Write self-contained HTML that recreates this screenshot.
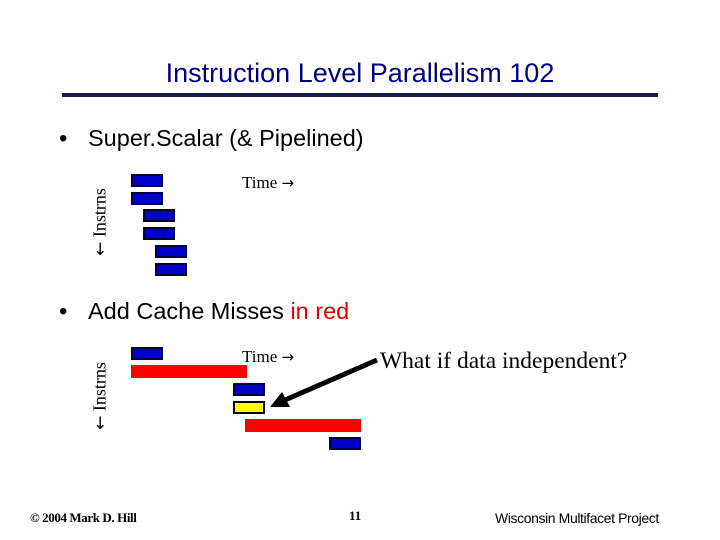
<!DOCTYPE html>
<html><head><meta charset="utf-8"><style>
body{margin:0;background:#fff}
#s{position:relative;width:720px;height:540px;overflow:hidden;font-family:"Liberation Sans",sans-serif}
.t{position:absolute;white-space:nowrap}
.b{position:absolute;box-sizing:border-box;border:2px solid #000040}
.blue{background:#0000c8}.red{background:#f00;border:none}.yel{background:#ff0;border-color:#000}
.serif{font-family:"Liberation Serif",serif}
.ar{font-family:"DejaVu Sans",sans-serif;font-size:15px}
</style></head><body>
<div id="s">
<div class="t" style="left:0;width:720px;text-align:center;top:58px;font-size:27px;color:#000080">Instruction Level Parallelism 102</div>
<div style="position:absolute;left:62px;top:93px;width:596px;height:4px;background:#1a1a50"></div>
<div class="t" style="left:59px;top:125px;font-size:24px">•</div>
<div class="t" style="left:88px;top:125px;font-size:23.5px">Super.Scalar (&amp; Pipelined)</div>
<div class="t" style="left:59px;top:298px;font-size:24px">•</div>
<div class="t" style="left:88px;top:298px;font-size:23.5px">Add Cache Misses <span style="color:#e00000">in red</span></div>

<div class="t serif" style="left:242px;top:173px;font-size:17px">Time <span class="ar">→</span></div>
<div class="t serif" style="left:100px;top:222px;font-size:18px;transform:translate(-50%,-50%) rotate(-90deg)"><span class="ar" style="font-size:17px">←</span> Instrns</div>
<div class="b blue" style="left:131px;top:174px;width:32px;height:13px"></div>
<div class="b blue" style="left:131px;top:192px;width:32px;height:13px"></div>
<div class="b blue" style="left:143px;top:209px;width:32px;height:13px"></div>
<div class="b blue" style="left:143px;top:227px;width:32px;height:13px"></div>
<div class="b blue" style="left:155px;top:245px;width:32px;height:13px"></div>
<div class="b blue" style="left:155px;top:263px;width:32px;height:13px"></div>

<div class="t serif" style="left:242px;top:347px;font-size:17px">Time <span class="ar">→</span></div>
<div class="t serif" style="left:100px;top:396px;font-size:18px;transform:translate(-50%,-50%) rotate(-90deg)"><span class="ar" style="font-size:17px">←</span> Instrns</div>
<div class="b blue" style="left:131px;top:347px;width:32px;height:13px"></div>
<div class="b red" style="left:131px;top:365px;width:116px;height:13px"></div>
<div class="b blue" style="left:233px;top:383px;width:32px;height:13px"></div>
<div class="b yel" style="left:233px;top:401px;width:32px;height:13px"></div>
<div class="b red" style="left:245px;top:419px;width:116px;height:13px"></div>
<div class="b blue" style="left:329px;top:437px;width:32px;height:13px"></div>
<svg style="position:absolute;left:0;top:0" width="720" height="540">
<line x1="377" y1="360" x2="285" y2="400" stroke="#000" stroke-width="5"/>
<polygon points="270,407 282,392 290,407" fill="#000"/>
</svg>
<div class="t serif" style="left:380px;top:348px;font-size:23.5px">What if data independent?</div>

<div class="t serif" style="left:30px;top:510px;font-size:13px;font-weight:bold;letter-spacing:-0.4px">© 2004 Mark D. Hill</div>
<div class="t serif" style="left:349px;top:508px;font-size:13px;font-weight:bold">11</div>
<div class="t" style="left:495px;top:510px;font-size:14px;letter-spacing:-0.4px">Wisconsin Multifacet Project</div>
</div>
</body></html>
